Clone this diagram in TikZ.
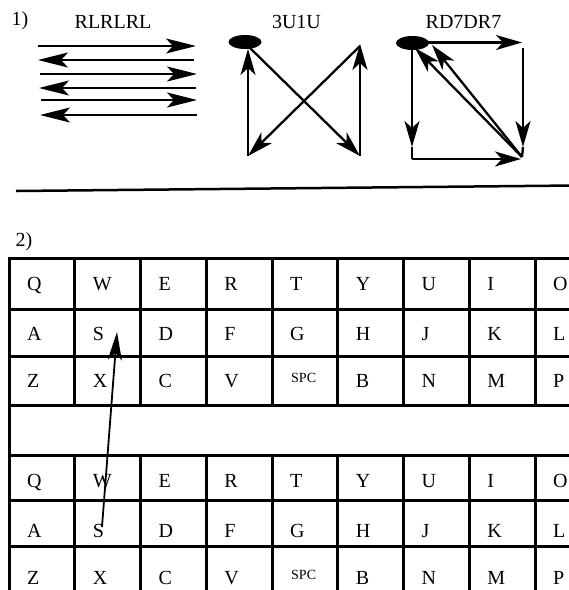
\documentclass[tikz,border=0pt]{standalone}
\usepackage{fontspec}
\setmainfont{Liberation Serif}
\usetikzlibrary{arrows.meta,shapes.geometric}
\begin{document}
\begin{tikzpicture}[x=1pt,y=-1pt,
  arrl/.style={line width=2.3pt, -{Stealth[length=30pt,width=15pt,inset=7pt]}},
  arrb/.style={line width=2.3pt, -{Stealth[length=26pt,width=15pt,inset=7pt]}},
  plainl/.style={line width=2.3pt},
  blob/.style={ellipse, fill=black, minimum width=33pt, minimum height=14pt, inner sep=0pt},
  lab/.style={font=\fontsize{20}{20}\selectfont, inner sep=0pt},
  keylab/.style={font=\fontsize{20}{20}\selectfont, anchor=base west, inner sep=0pt},
  spclab/.style={font=\fontsize{14}{14}\selectfont, anchor=base west, inner sep=0pt},
  gridline/.style={line width=3pt},
  sepline/.style={line width=2.5pt}]
\useasboundingbox (0,0) rectangle (569,590);
\clip (0,0) rectangle (569,590);

% ---------- part 1 ----------
\node[lab] (n1) at (20,21) {1)};
\node[lab] (t1) at (113,22) {RLRLRL};
\node[lab] (t2) at (296.5,21.5) {3U1U};
\node[lab] (t3) at (463.5,21.5) {RD7DR7};

% RLRLRL arrows
\coordinate (r1a) at (38,46);  \coordinate (r1b) at (196,46);
\coordinate (r2a) at (194,60); \coordinate (r2b) at (38,60);
\coordinate (r3a) at (40,74);  \coordinate (r3b) at (197,74);
\coordinate (r4a) at (196,88); \coordinate (r4b) at (39,88);
\coordinate (r5a) at (41,100); \coordinate (r5b) at (197,100);
\coordinate (r6a) at (197,115);\coordinate (r6b) at (40,115);
\foreach \i in {1,...,6}{\draw[arrl] (r\i a) -- (r\i b);}

% 3U1U
\node[blob] (e1) at (245,42) {};
\coordinate (ua) at (249,47);
\coordinate (ubr) at (360,156);
\coordinate (utr) at (360,44);
\coordinate (utr2) at (360,46);
\coordinate (ubl) at (248,156);
\coordinate (ul) at (248,49);
\draw[arrb] (ua) -- (ubr);
\draw[arrb] (ubr) -- (utr);
\draw[arrb] (utr2) -- (ubl);
\draw[arrb] (ubl) -- (ul);

% RD7DR7
\node[blob] (e2) at (412.5,43) {};
\coordinate (dtop) at (427,42.5);
\coordinate (dtr) at (522,42.5);
\coordinate (dr1) at (523,48);
\coordinate (dr2) at (523,147);
\coordinate (dl1) at (412,50);
\coordinate (dl2) at (412,147);
\coordinate (db1) at (412,159);
\coordinate (db2) at (521,159);
\coordinate (dc) at (522,157);
\coordinate (dt1) at (415,48);
\coordinate (dt2) at (432,45);
\draw[arrb] (dtop) -- (dtr);
\draw[arrb] (dr1) -- (dr2);
\draw[arrb] (dl1) -- (dl2);
\draw[plainl] (dl2) -- (db1);
\draw[plainl] (dr2) -- (dc);
\draw[arrb] (db1) -- (db2);
\draw[arrb] (dc) -- (dt1);
\draw[arrb] (dc) -- (dt2);

% separator
\coordinate (s1) at (16,191);
\coordinate (s2) at (575,185.5);
\draw[sepline] (s1) -- (s2);

% ---------- part 2 ----------
\node[lab] (n2) at (24,242) {2)};

% grid lines
\foreach \y in {258,309,356,405.5,455,500,546}{
  \draw[gridline] (7.5,\y) -- (600,\y);}
\draw[gridline] (9,256.5) -- (9,600);
\foreach \i in {1,...,8}{
  \draw[gridline] ({9+65.75*\i},258) -- ({9+65.75*\i},405.5);
  \draw[gridline] ({9+65.75*\i},455) -- ({9+65.75*\i},600);}

% letters
\foreach \blk/\top in {u/0,l/197}{
  \foreach \k [count=\c from 0] in {Q,W,E,R,T,Y,U,I,O}{
    \node[keylab] (\blk-\k) at ({27+65.75*\c},{290+\top}) {\k};}
  \foreach \k [count=\c from 0] in {A,S,D,F,G,H,J,K,L}{
    \node[keylab] (\blk-\k) at ({27+65.75*\c},{340+\top}) {\k};}
  \foreach \k [count=\c from 0] in {Z,X,C,V,SPC,B,N,M,P}{
    \ifnum\c=4
      \node[spclab] (\blk-\k) at ({28+65.75*\c},{382+\top}) {\k};
    \else
      \node[keylab] (\blk-\k) at ({27+65.75*\c},{387+\top}) {\k};
    \fi}
}

% S to S arrow
\coordinate (sfrom) at (102,527);
\coordinate (sto) at (117,332);
\draw[line width=1.8pt, -{Stealth[length=28pt,width=14pt,inset=7pt]}] (sfrom) -- (sto);
\end{tikzpicture}
\end{document}
